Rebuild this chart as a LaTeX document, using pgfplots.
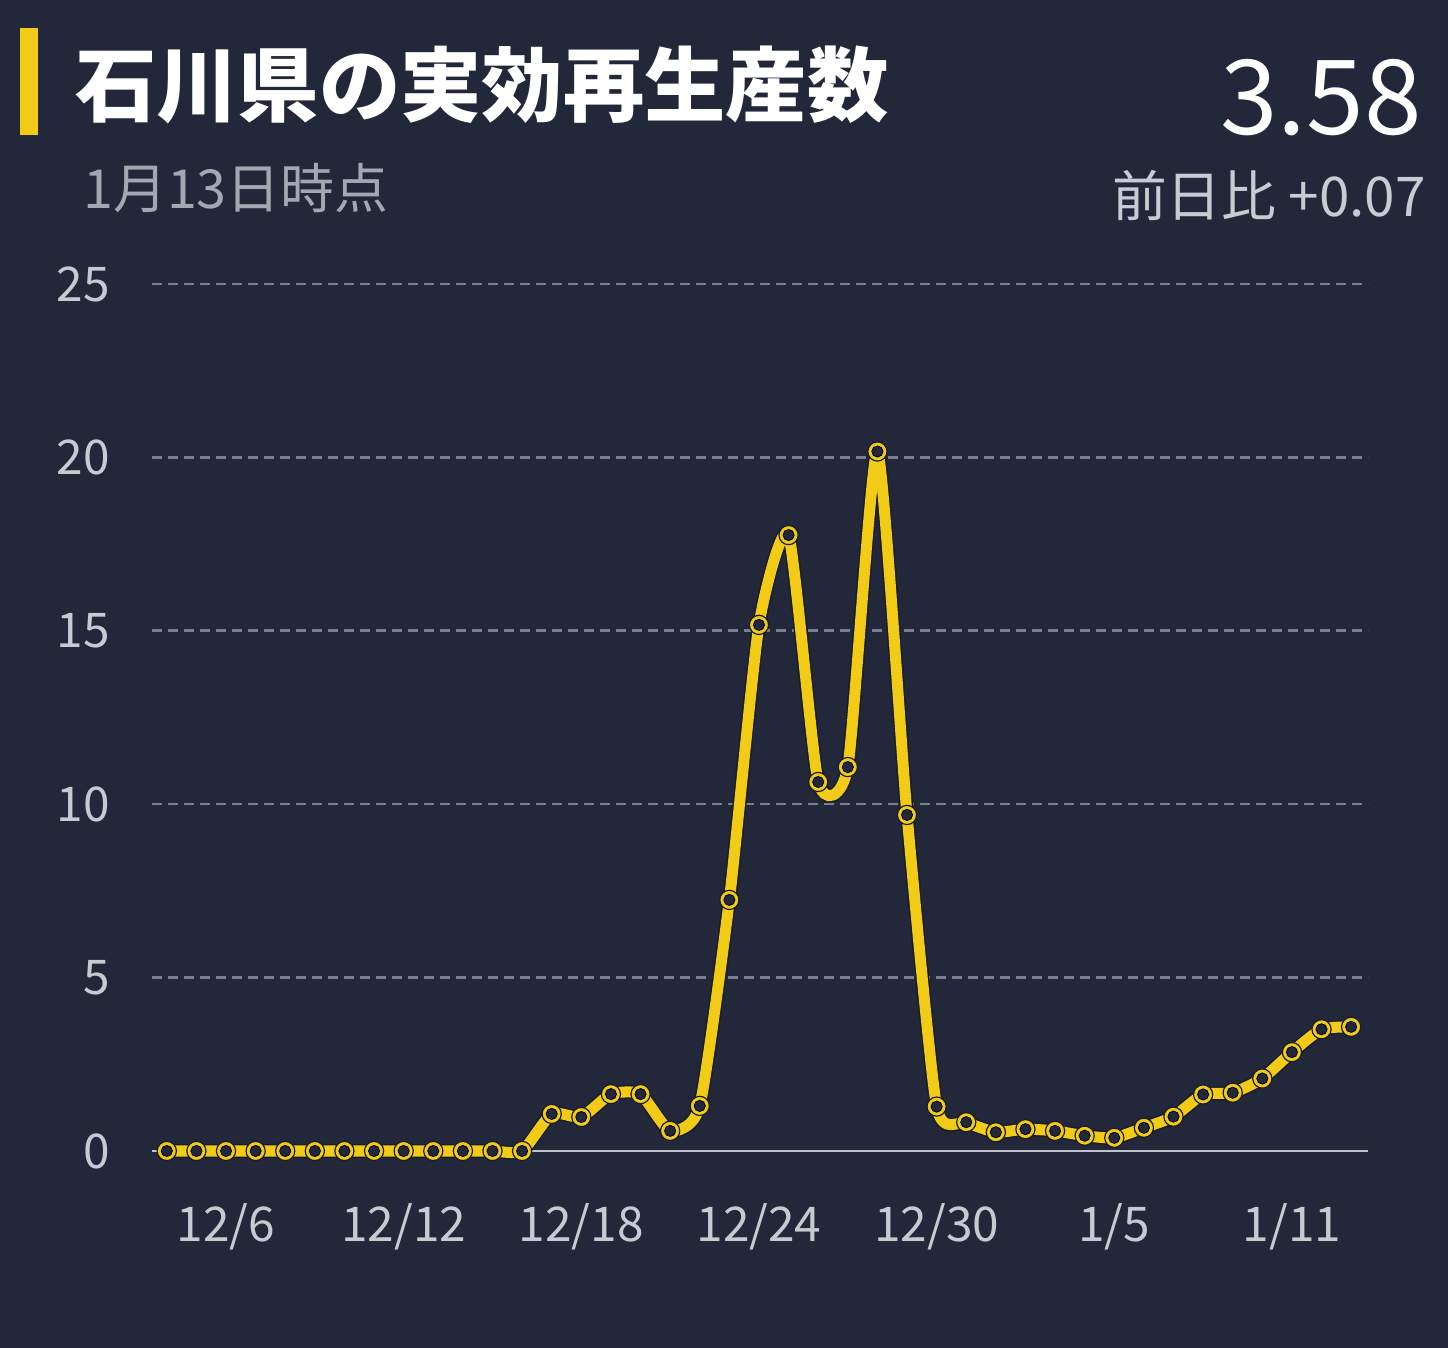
\documentclass[border=0pt]{standalone}
\usepackage{fontspec}
\setmainfont{Noto Sans CJK JP}
\usepackage{pgfplots}
\pgfplotsset{compat=1.18}

\definecolor{bg}{HTML}{222839}
\definecolor{ryellow}{HTML}{F2CB17}
\definecolor{gridc}{HTML}{7A7F8E}
\definecolor{zeroc}{HTML}{BFC2CB}
\definecolor{tickc}{HTML}{C8CAD2}
\definecolor{subc}{HTML}{A3A7B1}
\definecolor{diffc}{HTML}{C9CBD2}

% day 0 = 12/4
\pgfplotstableread{
day rt
0 0
1 0
2 0
3 0
4 0
5 0
6 0
7 0
8 0
9 0
10 0
11 0
12 0
13 1.07
14 0.98
15 1.64
16 1.64
17 0.58
18 1.30
19 7.24
20 15.17
21 17.76
22 10.64
23 11.07
24 20.17
25 9.69
26 1.28
27 0.83
28 0.54
29 0.63
30 0.58
31 0.44
32 0.38
33 0.67
34 0.99
35 1.63
36 1.68
37 2.09
38 2.85
39 3.51
40 3.58
}\rtdata

\begin{document}
\begin{tikzpicture}[x=1bp,y=1bp]
\fill[bg] (-76,-98.5) rectangle (648,575.5);
\useasboundingbox (-76,-98.5) rectangle (648,575.5);

\begin{axis}[
  at={(0,0)}, anchor=south west,
  scale only axis,
  width=608bp, height=433.5bp,
  xmin=-0.5, xmax=40.57,
  ymin=0, ymax=25,
  clip=false,
  axis line style={draw=none},
  tick style={draw=none},
  xtick={2,8,14,20,26,32,38},
  xticklabels={12/6,12/12,12/18,12/24,12/30,1/5,1/11},
  ytick={5,10,15,20,25},
  extra y ticks={0},
  extra y tick style={grid style={solid, zeroc, line width=1bp}},
  ymajorgrids,
  grid style={gridc, line width=1.3bp, dash pattern=on 5bp off 3bp},
  /pgf/number format/assume math mode=true,
  ticklabel style={font=\fontsize{24}{24}\selectfont, text=tickc},
  xticklabel style={anchor=center, inner sep=0pt, yshift=-38bp},
  yticklabel style={anchor=east, inner sep=0pt, xshift=-21bp},
]
\addplot[bg!70!black, line width=7bp, smooth, tension=0.35, forget plot]
  table[x=day, y=rt] {\rtdata};
\addplot[ryellow, line width=5.5bp, smooth, tension=0.35, forget plot]
  table[x=day, y=rt] {\rtdata};
\addplot[only marks, mark=*, mark size=4.8bp,
  mark options={draw=bg!70!black, fill=ryellow, line width=0.6bp}, forget plot]
  table[x=day, y=rt] {\rtdata};
\addplot[only marks, mark=*, mark size=2.8bp,
  mark options={draw=none, fill=bg}]
  table[x=day, y=rt] {\rtdata};
\end{axis}

\fill[ryellow] (-66,508) rectangle (-57,561.5);
\node[anchor=west, inner sep=0pt, text=white,
  font=\bfseries\fontsize{40.8}{40.8}\selectfont] at (-38.5,533) {石川県の実効再生産数};
\node[anchor=west, inner sep=0pt, text=subc,
  font=\fontsize{27}{27}\selectfont] at (-34.5,481.5) {1月13日時点};
\node[anchor=east, inner sep=0pt, text=white,
  font=\fontsize{52}{52}\selectfont] at (635,526.5) {3.58};
\node[anchor=east, inner sep=0pt, text=diffc,
  font=\fontsize{27.5}{27.5}\selectfont] at (637,478) {前日比 +0.07};
\end{tikzpicture}
\end{document}
